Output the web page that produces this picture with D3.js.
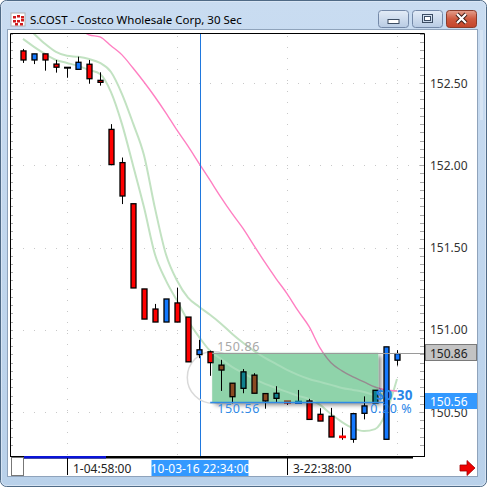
<!DOCTYPE html>
<html>
<head>
<meta charset="utf-8">
<script src="https://cdn.jsdelivr.net/npm/d3@7"></script>
<style>
  body { margin: 0; background: #fff; }
  svg { display: block; font-family: "Segoe UI", "Noto Sans", sans-serif; }
</style>
</head>
<body>
<script>
var width = 487,
  height = 487;

// 30 second bars
var opens  = [152.695, 152.640, 152.677, 152.615, 152.593, 152.583, 152.614, 152.516, 152.218, 152.016,
              151.766, 151.248, 151.126, 151.047, 151.163, 151.077, 150.849, 150.866, 150.785, 150.675,
              150.644, 150.724, 150.612, 150.583, 150.565, 150.555, 150.567, 150.486, 150.474, 150.351,
              150.334, 150.492, 150.555, 150.334, 150.815];
var highs  = [152.707, 152.677, 152.677, 152.640, 152.593, 152.660, 152.640, 152.565, 152.250, 152.047,
              151.766, 151.248, 151.157, 151.187, 151.256, 151.077, 150.939, 150.873, 150.817, 150.675,
              150.761, 150.736, 150.612, 150.657, 150.565, 150.634, 150.580, 150.523, 150.525, 150.405,
              150.490, 150.595, 150.632, 150.896, 150.876];
var lows   = [152.622, 152.615, 152.575, 152.563, 152.532, 152.583, 152.496, 152.484, 152.004, 151.764,
              151.254, 151.065, 151.047, 151.047, 151.047, 150.805, 150.827, 150.720, 150.628, 150.553,
              150.614, 150.614, 150.520, 150.557, 150.543, 150.555, 150.455, 150.445, 150.348, 150.331,
              150.313, 150.455, 150.555, 150.334, 150.782];
var closes = [152.640, 152.677, 152.640, 152.596, 152.593, 152.626, 152.526, 152.504, 152.004, 151.813,
              151.254, 151.065, 151.047, 151.187, 151.047, 150.805, 150.878, 150.800, 150.755, 150.593,
              150.744, 150.614, 150.567, 150.614, 150.557, 150.563, 150.455, 150.445, 150.348, 150.347,
              150.490, 150.537, 150.632, 150.896, 150.855];

// indicators (null = not drawn)
var slowMA = [null, null, null, null, null, 152.835, 152.793, 152.780, 152.726, 152.671,
              152.591, 152.506, 152.415, 152.317, 152.213, 152.116, 152.012, 151.909, 151.805, 151.707,
              151.616, 151.512, 151.409, 151.311, 151.220, 151.116, 151.020, 150.890, 150.799, 150.750,
              150.713, 150.683, 150.652, 150.634, 150.628];
var bandUpper = [152.860, 152.799, 152.738, 152.689, 152.665, 152.659, 152.646, 152.622, 152.567, 152.433,
                 152.256, 152.061, 151.738, 151.457, 151.299, 151.195, 151.140, 151.091, 151.037, 150.976,
                 150.921, 150.872, 150.829, 150.793, 150.756, 150.726, 150.701, 150.683, 150.665, 150.646,
                 150.634, 150.622, 150.604, 150.615, 150.630];
var bandLower = [152.768, 152.720, 152.677, 152.640, 152.622, 152.604, 152.579, 152.555, 152.445, 152.250,
                 152.000, 151.744, 151.457, 151.299, 151.177, 151.055, 150.957, 150.872, 150.823, 150.774,
                 150.738, 150.701, 150.671, 150.646, 150.622, 150.598, 150.579, 150.543, 150.488, 150.439,
                 150.402, 150.384, 150.396, 150.494, 150.701];

var priceTicks = [152.5, 152.0, 151.5, 151.0, 150.5];
var gridIdx = [4, 14, 24, 34];
var timeTickIdx = [4, 24];
var timeTickLabels = ["1-04:58:00", "3-22:38:00"];
var cursorIdx = 16.1,
  cursorLabel = "10-03-16 22:34:00";
var lastPrice = 150.86;
var measureFrom = 17.2, measureTo = 32.3, measureHigh = 150.86, measureLow = 150.56;
var measureDelta = "$0.30", measurePct = "0.20 %";
var title = "S.COST - Costco Wholesale Corp, 30 Sec";

var plot = { left: 10, top: 33, right: 424, bottom: 456 };

var svg = d3.select("body").append("svg")
  .attr("width", width)
  .attr("height", height);

var defs = svg.append("defs");

var tbGrad = defs.append("linearGradient").attr("id", "tb").attr("x1", 0).attr("y1", 0).attr("x2", 0).attr("y2", 1);
tbGrad.append("stop").attr("offset", "0%").attr("stop-color", "#c9dcf1");
tbGrad.append("stop").attr("offset", "100%").attr("stop-color", "#b9d1ea");

var btnGrad = defs.append("linearGradient").attr("id", "btn").attr("x1", 0).attr("y1", 0).attr("x2", 0).attr("y2", 1);
btnGrad.append("stop").attr("offset", "0%").attr("stop-color", "#e3ecf7");
btnGrad.append("stop").attr("offset", "100%").attr("stop-color", "#b8cbe3");

var closeGrad = defs.append("linearGradient").attr("id", "cls").attr("x1", 0).attr("y1", 0).attr("x2", 0).attr("y2", 1);
closeGrad.append("stop").attr("offset", "0%").attr("stop-color", "#e4a08e");
closeGrad.append("stop").attr("offset", "50%").attr("stop-color", "#cf5a3f");
closeGrad.append("stop").attr("offset", "100%").attr("stop-color", "#c4442a");

defs.append("clipPath").attr("id", "plotClip")
  .append("rect").attr("x", plot.left).attr("y", plot.top)
  .attr("width", plot.right - plot.left).attr("height", plot.bottom - plot.top);

var shadow = defs.append("filter").attr("id", "shadow")
  .attr("x", "-10%").attr("y", "-10%").attr("width", "130%").attr("height", "140%");
shadow.append("feDropShadow").attr("dx", 3).attr("dy", 3).attr("stdDeviation", 2)
  .attr("flood-color", "#000").attr("flood-opacity", 0.45);

// window frame
svg.append("rect").attr("x", 0.5).attr("y", 0.5).attr("width", width - 1).attr("height", height - 1)
  .attr("rx", 6).attr("fill", "url(#tb)").attr("stroke", "#4f6a86");
svg.append("rect").attr("x", 1.5).attr("y", 1.5).attr("width", width - 3).attr("height", height - 3)
  .attr("rx", 5).attr("fill", "none").attr("stroke", "#dde9f6").attr("stroke-opacity", 0.8);

// title bar
var icon = svg.append("g").attr("transform", "translate(11,13)");
icon.append("rect").attr("width", 14).attr("height", 13).attr("fill", "#fff").attr("stroke", "#b0b0b0");
[[2, 3], [6, 2], [10, 3], [2, 7], [6, 7], [10, 6], [4, 10], [9, 10]].forEach(function (p) {
  icon.append("rect").attr("x", p[0]).attr("y", p[1]).attr("width", 3).attr("height", 2.5).attr("fill", "#d01c1c");
});
svg.append("text").attr("x", 30).attr("y", 24).attr("font-size", 11.5).attr("fill", "#000").text(title);

var buttons = [{ x: 378, g: "min" }, { x: 412, g: "max" }, { x: 446, g: "close" }];
buttons.forEach(function (b) {
  svg.append("rect").attr("x", b.x + 0.5).attr("y", 10.5).attr("width", 30).attr("height", 17).attr("rx", 3)
    .attr("fill", b.g === "close" ? "url(#cls)" : "url(#btn)")
    .attr("stroke", b.g === "close" ? "#8a3b2a" : "#7489a8");
  if (b.g === "min") {
    svg.append("rect").attr("x", b.x + 10).attr("y", 19.5).attr("width", 11).attr("height", 4)
      .attr("fill", "#fff").attr("stroke", "#3c4d63");
  } else if (b.g === "max") {
    svg.append("rect").attr("x", b.x + 10.5).attr("y", 14.5).attr("width", 10).attr("height", 8)
      .attr("fill", "none").attr("stroke", "#3c4d63").attr("stroke-width", 1);
    svg.append("rect").attr("x", b.x + 12.5).attr("y", 16.5).attr("width", 6).attr("height", 4)
      .attr("fill", "#fff").attr("stroke", "#3c4d63");
  } else {
    svg.append("path").attr("d", "M" + (b.x + 11) + ",14 L" + (b.x + 20) + ",23 M" + (b.x + 20) + ",14 L" + (b.x + 11) + ",23")
      .attr("stroke", "#3a1a14").attr("stroke-width", 4);
    svg.append("path").attr("d", "M" + (b.x + 11) + ",14 L" + (b.x + 20) + ",23 M" + (b.x + 20) + ",14 L" + (b.x + 11) + ",23")
      .attr("stroke", "#fff").attr("stroke-width", 2.2);
  }
});

// client area
svg.append("rect").attr("x", 7.5).attr("y", 29.5).attr("width", 470).attr("height", 447)
  .attr("fill", "#fff").attr("stroke", "#8fa3bb");
svg.append("rect").attr("x", 480).attr("y", 30).attr("width", 3).attr("height", 90).attr("fill", "#d6e4f3");

// scales
var x = d3.scaleLinear().domain([0, 34]).range([23, 397]);
var y = d3.scaleLinear().domain([150.5, 152.5]).range([412, 83]);

var chart = svg.append("g").attr("clip-path", "url(#plotClip)");

// dotted grid
chart.selectAll(".hgrid").data(priceTicks).enter().append("line")
  .attr("x1", plot.left + 2).attr("x2", plot.right)
  .attr("y1", function (d) { return Math.round(y(d)) + 0.5; })
  .attr("y2", function (d) { return Math.round(y(d)) + 0.5; })
  .attr("stroke", "#c8c8c8").attr("stroke-dasharray", "1,10");
chart.selectAll(".vgrid").data(gridIdx).enter().append("line")
  .attr("x1", function (d) { return Math.round(x(d)) + 0.5; })
  .attr("x2", function (d) { return Math.round(x(d)) + 0.5; })
  .attr("y1", plot.top + 3).attr("y2", plot.bottom)
  .attr("stroke", "#c8c8c8").attr("stroke-dasharray", "1,10");

// minor ticks every 0.05
var minor = d3.range(150.3, 152.85, 0.05);
chart.selectAll(".tl").data(minor).enter().append("line")
  .attr("x1", plot.left).attr("x2", plot.left + 3)
  .attr("y1", function (d) { return Math.round(y(d)) + 0.5; })
  .attr("y2", function (d) { return Math.round(y(d)) + 0.5; })
  .attr("stroke", "#aaa");
chart.selectAll(".tr").data(minor).enter().append("line")
  .attr("x1", plot.right - 4).attr("x2", plot.right)
  .attr("y1", function (d) { return Math.round(y(d)) + 0.5; })
  .attr("y2", function (d) { return Math.round(y(d)) + 0.5; })
  .attr("stroke", "#aaa");

// indicator lines
var line = function (arr) {
  return d3.line()
    .defined(function (d) { return d != null; })
    .x(function (d, i) { return x(i); })
    .y(function (d) { return y(d); })
    .curve(d3.curveMonotoneX)(arr);
};

chart.append("path").attr("d", line(bandUpper)).attr("fill", "none")
  .attr("stroke", "#c2e2c2").attr("stroke-width", 2);
chart.append("path").attr("d", line(bandLower)).attr("fill", "none")
  .attr("stroke", "#c2e2c2").attr("stroke-width", 2);
chart.append("path").attr("d", line(slowMA)).attr("fill", "none")
  .attr("stroke", "#ff7fc2").attr("stroke-width", 1.4);

// cursor
var cx = Math.round(x(cursorIdx)) + 0.5;
chart.append("line").attr("x1", cx).attr("x2", cx).attr("y1", plot.top).attr("y2", plot.bottom)
  .attr("stroke", "#1f78de").attr("stroke-width", 1);

// circle marker
chart.append("circle").attr("cx", x(17.3)).attr("cy", y(150.71)).attr("r", 26)
  .attr("fill", "none").attr("stroke", "#d9d9d9").attr("stroke-width", 1.5);

// candles
function drawCandles(g, up, down) {
  var idx = d3.range(opens.length);
  g.selectAll(".wick").data(idx).enter().append("line")
    .attr("x1", function (i) { return Math.round(x(i)) + 0.5; })
    .attr("x2", function (i) { return Math.round(x(i)) + 0.5; })
    .attr("y1", function (i) { return y(highs[i]); })
    .attr("y2", function (i) { return y(lows[i]); })
    .attr("stroke", "#000");
  g.selectAll(".body").data(idx).enter().append("rect")
    .attr("x", function (i) { return Math.round(x(i)) - 2; })
    .attr("width", 5)
    .attr("y", function (i) { return y(Math.max(opens[i], closes[i])); })
    .attr("height", function (i) { return Math.max(0.01, Math.abs(y(opens[i]) - y(closes[i]))); })
    .attr("fill", function (i) {
      return closes[i] > opens[i] ? up : closes[i] < opens[i] ? down : "#000";
    })
    .attr("stroke", function (i) {
      var h = Math.abs(y(opens[i]) - y(closes[i]));
      if (h < 1.5 && closes[i] !== opens[i]) return closes[i] > opens[i] ? up : down;
      return "#000";
    })
    .attr("stroke-width", function (i) {
      var h = Math.abs(y(opens[i]) - y(closes[i]));
      return h < 1.5 ? 2 : 1.3;
    });
}
drawCandles(chart.append("g"), "#1479ff", "#ff0000");

// measurement box
var bx0 = x(measureFrom), bx1 = x(measureTo), by0 = y(measureHigh), by1 = y(measureLow);
defs.append("clipPath").attr("id", "boxClip")
  .append("rect").attr("x", bx0).attr("y", by0).attr("width", bx1 - bx0).attr("height", by1 - by0);

chart.append("rect").attr("x", bx0).attr("y", by0).attr("width", bx1 - bx0).attr("height", by1 - by0)
  .attr("fill", "#8fd3aa").attr("filter", "url(#shadow)");

var inBox = chart.append("g").attr("clip-path", "url(#boxClip)");
inBox.append("path").attr("d", line(bandUpper)).attr("fill", "none")
  .attr("stroke", "#a6dcb9").attr("stroke-width", 2);
inBox.append("path").attr("d", line(bandLower)).attr("fill", "none")
  .attr("stroke", "#a6dcb9").attr("stroke-width", 2);
inBox.append("path").attr("d", line(slowMA)).attr("fill", "none")
  .attr("stroke", "#978a90").attr("stroke-width", 1.4);
drawCandles(inBox.append("g"), "#11808e", "#8a4a22");

// last price line / box edges
chart.append("line").attr("x1", bx0).attr("x2", plot.right)
  .attr("y1", Math.round(y(lastPrice)) + 0.5).attr("y2", Math.round(y(lastPrice)) + 0.5)
  .attr("stroke", "#9a9a9a");
chart.append("line").attr("x1", bx0 - 2).attr("x2", bx1 + 6)
  .attr("y1", Math.round(by1) + 0.5).attr("y2", Math.round(by1) + 0.5)
  .attr("stroke", "#2f8ae6").attr("stroke-width", 1.5);

chart.append("text").attr("x", bx0 + 5).attr("y", by0 - 2)
  .attr("font-size", 12.5).attr("letter-spacing", 0.6).attr("fill", "#a8a8a8")
  .text(d3.format(".2f")(measureHigh));
chart.append("text").attr("x", bx0 + 5).attr("y", by1 + 11)
  .attr("font-size", 12.5).attr("letter-spacing", 0.6).attr("fill", "#2f8ae6")
  .text(d3.format(".2f")(measureLow));
chart.append("text").attr("x", bx1 - 2).attr("y", by1 - 2)
  .attr("font-size", 13.5).attr("font-weight", "bold").attr("letter-spacing", 0.4).attr("fill", "#2a86e8")
  .text(measureDelta);
chart.append("text").attr("x", bx1 - 8).attr("y", by1 + 11)
  .attr("font-size", 12.5).attr("letter-spacing", 0.6).attr("fill", "#2a86e8")
  .text(measurePct);

// plot frame
svg.append("path")
  .attr("d", "M" + (plot.left + 0.5) + "," + (plot.bottom) + " V" + (plot.top + 0.5) + " H" + (plot.right + 0.5) + " V" + plot.bottom)
  .attr("fill", "none").attr("stroke", "#000");

// price axis
svg.selectAll(".plabel").data(priceTicks).enter().append("text")
  .attr("x", 430).attr("y", function (d) { return y(d) + 4.5; })
  .attr("font-size", 12).attr("fill", "#333")
  .text(function (d) { return d3.format(".2f")(d); });

svg.append("rect").attr("x", 425.5).attr("y", Math.round(y(lastPrice)) - 8.5).attr("width", 51).attr("height", 16)
  .attr("fill", "#c3c3c3").attr("stroke", "#7a7a7a");
svg.append("text").attr("x", 430).attr("y", Math.round(y(lastPrice)) + 4.5)
  .attr("font-size", 12).attr("fill", "#222").text(d3.format(".2f")(lastPrice));

svg.append("rect").attr("x", 425).attr("y", Math.round(by1) - 9).attr("width", 52).attr("height", 16)
  .attr("fill", "#3399ff");
svg.append("text").attr("x", 430).attr("y", Math.round(by1) + 3.5)
  .attr("font-size", 12).attr("fill", "#fff").text(d3.format(".2f")(measureLow));

// time axis
svg.append("line").attr("x1", plot.left).attr("x2", plot.right + 1).attr("y1", plot.bottom + 0.5).attr("y2", plot.bottom + 0.5)
  .attr("stroke", "#000");
svg.append("rect").attr("x", 24).attr("y", plot.bottom).attr("width", 389).attr("height", 2.5).attr("fill", "#000");
svg.append("rect").attr("x", 24).attr("y", plot.bottom).attr("width", 82).attr("height", 2.5).attr("fill", "#0a14d8");
svg.append("rect").attr("x", 11.5).attr("y", 457.5).attr("width", 12).attr("height", 18)
  .attr("fill", "#fff").attr("stroke", "#777");

svg.selectAll(".ttick").data(timeTickIdx).enter().append("line")
  .attr("x1", function (d) { return Math.round(x(d)) + 0.5; })
  .attr("x2", function (d) { return Math.round(x(d)) + 0.5; })
  .attr("y1", 458).attr("y2", 475).attr("stroke", "#000");
svg.selectAll(".tlabel").data(timeTickIdx).enter().append("text")
  .attr("x", function (d) { return Math.round(x(d)) + 6; })
  .attr("y", 472.5).attr("font-size", 12).attr("fill", "#222")
  .text(function (d, i) { return timeTickLabels[i]; });

svg.append("rect").attr("x", cx - 49).attr("y", 460).attr("width", 97).attr("height", 16).attr("fill", "#3399ff");
svg.append("text").attr("x", cx).attr("y", 472.5).attr("text-anchor", "middle")
  .attr("font-size", 12).attr("fill", "#fff").text(cursorLabel);

// scroll arrow
svg.append("path")
  .attr("d", "M460,465 H467 V460.5 L475,468 L467,475.5 V471 H460 Z")
  .attr("fill", "#ee0000").attr("stroke", "#a00000").attr("stroke-width", 0.8);
</script>
</body>
</html>
